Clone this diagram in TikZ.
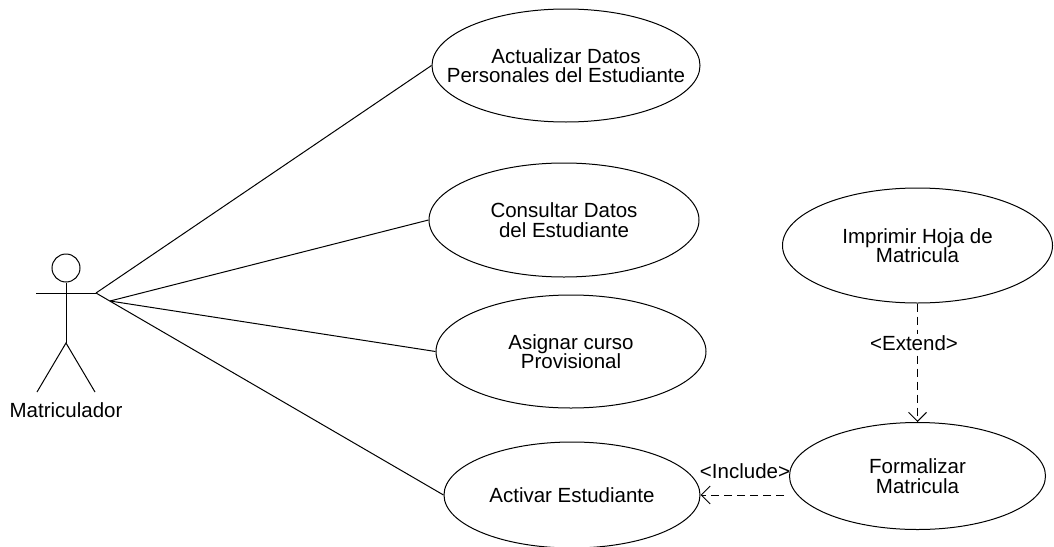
\documentclass[tikz,border=0pt]{standalone}
\usepackage{fontspec}
\setmainfont{Liberation Sans}
\usetikzlibrary{shapes.geometric,arrows.meta}
\begin{document}
\begin{tikzpicture}[x=1pt,y=-1pt,
  line width=1pt,
  txt/.style={font=\fontsize{20.5}{19.5}\selectfont, align=center},
  usecase/.style={draw, ellipse, fill=white, inner sep=0pt,
    label={[txt]center:#1}},
  assoc/.style={draw},
  dep/.style={draw, dash pattern=on 8pt off 5pt, -{Straight Barb[length=9pt,width=18pt]}},
  lbl/.style={txt, inner sep=1pt}]
\useasboundingbox (0,0) rectangle (1054,546);

% actor
\node[draw, circle, minimum size=28pt, inner sep=0pt] (head) at (66,268) {};
\coordinate (hip) at (66,343);
\coordinate (handL) at (36,293);
\coordinate (handR) at (96,293);
\coordinate (footL) at (37,392);
\coordinate (footR) at (95,392);
\coordinate (fork) at (110,301);
\draw (head.south) -- (hip);
\draw (handL) -- (handR);
\draw (footL) -- (hip) -- (footR);
\node[lbl] (actor) at (66,410) {Matriculador};

% use cases
\node[usecase={Actualizar Datos\\Personales del Estudiante},
  minimum width=268pt, minimum height=113pt] (upd) at (566,65.5) {};
\node[usecase={Consultar Datos\\del Estudiante},
  minimum width=270pt, minimum height=114pt] (qry) at (564,220) {};
\node[usecase={Asignar curso\\Provisional},
  minimum width=270pt, minimum height=113pt] (asg) at (571,351.5) {};
\node[usecase={Activar Estudiante},
  minimum width=256pt, minimum height=106pt] (act) at (572,495) {};
\node[usecase={Imprimir Hoja de\\Matricula},
  minimum width=270pt, minimum height=115pt] (prn) at (917.5,245.5) {};
\node[usecase={Formalizar\\Matricula},
  minimum width=256pt, minimum height=107pt] (frm) at (917.5,476) {};

% associations
\draw[assoc] (handR) -- (upd.west);
\draw[assoc] (fork) -- (qry.west);
\draw[assoc] (fork) -- (asg.west);
\draw[assoc] (handR) -- (act.west);

% dependencies
\draw[dep, shorten <=5pt] (frm.west |- act.east) -- (act.east);
\node[lbl] (inc) at (745,471) {<Include>};
\draw[dep] (prn.south) -- (frm.north);
\node[lbl, fill=white] (ext) at (914,343) {<Extend>};
\end{tikzpicture}
\end{document}
